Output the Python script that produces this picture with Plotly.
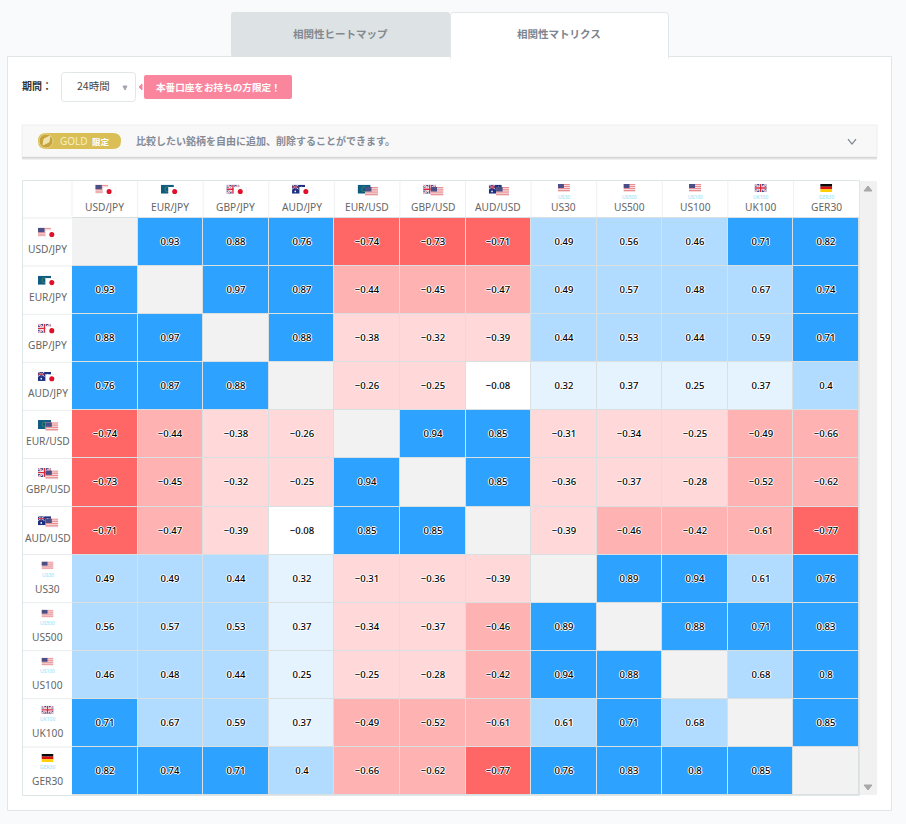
# -*- coding: utf-8 -*-
# correlation matrix page rebuilt with plotly
import base64
import plotly.graph_objects as go

W = 906
H = 824

## DATA
symbols = ['USD/JPY', 'EUR/JPY', 'GBP/JPY', 'AUD/JPY', 'EUR/USD', 'GBP/USD',
           'AUD/USD', 'US30', 'US500', 'US100', 'UK100', 'GER30']
flag_pairs = [('us', 'jp'), ('eu', 'jp'), ('gb', 'jp'), ('au', 'jp'), ('eu', 'us'), ('gb', 'us'),
              ('au', 'us'), ('us',), ('us',), ('us',), ('gb',), ('de',)]

usdjpy = [None, 0.93, 0.88, 0.76, -0.74, -0.73, -0.71, 0.49, 0.56, 0.46, 0.71, 0.82]
eurjpy = [0.93, None, 0.97, 0.87, -0.44, -0.45, -0.47, 0.49, 0.57, 0.48, 0.67, 0.74]
gbpjpy = [0.88, 0.97, None, 0.88, -0.38, -0.32, -0.39, 0.44, 0.53, 0.44, 0.59, 0.71]
audjpy = [0.76, 0.87, 0.88, None, -0.26, -0.25, -0.08, 0.32, 0.37, 0.25, 0.37, 0.4]
eurusd = [-0.74, -0.44, -0.38, -0.26, None, 0.94, 0.85, -0.31, -0.34, -0.25, -0.49, -0.66]
gbpusd = [-0.73, -0.45, -0.32, -0.25, 0.94, None, 0.85, -0.36, -0.37, -0.28, -0.52, -0.62]
audusd = [-0.71, -0.47, -0.39, -0.08, 0.85, 0.85, None, -0.39, -0.46, -0.42, -0.61, -0.77]
us30 = [0.49, 0.49, 0.44, 0.32, -0.31, -0.36, -0.39, None, 0.89, 0.94, 0.61, 0.76]
us500 = [0.56, 0.57, 0.53, 0.37, -0.34, -0.37, -0.46, 0.89, None, 0.88, 0.71, 0.83]
us100 = [0.46, 0.48, 0.44, 0.25, -0.25, -0.28, -0.42, 0.94, 0.88, None, 0.68, 0.8]
uk100 = [0.71, 0.67, 0.59, 0.37, -0.49, -0.52, -0.61, 0.61, 0.71, 0.68, None, 0.85]
ger30 = [0.82, 0.74, 0.71, 0.4, -0.66, -0.62, -0.77, 0.76, 0.83, 0.8, 0.85, None]
matrix = [usdjpy, eurjpy, gbpjpy, audjpy, eurusd, gbpusd, audusd, us30, us500, us100, uk100, ger30]

## TABLE GEOMETRY (pixels of the page)
TX0, TX1 = 72, 859
TY0, TY1 = 218, 795
HEAD_TOP = 181
COL_W = (TX1 - TX0) / len(symbols)
ROW_H = (TY1 - TY0) / len(symbols)

JP_FONT = 'Noto Sans CJK JP'
LATIN_FONT = 'Noto Sans'
HALO = '1px 0 0 #fff, -1px 0 0 #fff, 0 1px 0 #fff, 0 -1px 0 #fff'


def px(x):
    return x / W


def py(y):
    return 1 - y / H


## STEP COLOUR SCALE (z runs -1..1, so position = (v + 1) / 2)
bins = [(-1, -0.7, '#ff6666'), (-0.7, -0.4, '#ffb2b2'), (-0.4, -0.2, '#ffd9d9'), (-0.2, 0.2, '#ffffff'),
        (0.2, 0.4, '#e5f3ff'), (0.4, 0.7, '#b2dcff'), (0.7, 1, '#2da2ff')]
colorscale = []
for low, high, col in bins:
    colorscale.append([(low + 1) / 2, col])
    colorscale.append([(high + 1) / 2, col])

cell_text = [['' if v is None else str(v).replace('-', '\u2212') for v in row] for row in matrix]
diag = [[1 if v is None else None for v in row] for row in matrix]

fig = go.Figure()

fig.add_trace(go.Heatmap(x=symbols, y=symbols, z=diag, zmin=0, zmax=1, xgap=1, ygap=1,
                         colorscale=[[0, '#f2f2f2'], [1, '#f2f2f2']], showscale=False, hoverinfo='skip'))
fig.add_trace(go.Heatmap(x=symbols, y=symbols, z=matrix, zmin=-1, zmax=1, xgap=1, ygap=1,
                         colorscale=colorscale, showscale=False, text=cell_text, texttemplate='%{text}',
                         textfont=dict(family=LATIN_FONT, size=9.5, color='#000000', weight=500, shadow=HALO),
                         hoverongaps=False))


## FLAGS AS SMALL SVG IMAGES
def svg_uri(body):
    svg = '<svg xmlns="http://www.w3.org/2000/svg" viewBox="0 0 24 16" preserveAspectRatio="none">' + body + '</svg>'
    return 'data:image/svg+xml;base64,' + base64.b64encode(svg.encode()).decode()


us_stripes = ''.join('<rect y="%d" width="24" height="2" fill="#e88e92"/>' % y for y in range(0, 16, 4))
flags = {
    'us': svg_uri('<rect width="24" height="16" fill="#f6dcdc"/>' + us_stripes
                  + '<rect width="12" height="8" fill="#4b4f86"/>'),
    'jp': svg_uri('<rect width="24" height="16" fill="#fff" stroke="#e6e6e6" stroke-width="1"/>'
                  '<circle cx="12" cy="8" r="4.6" fill="#e0102a"/>'),
    'eu': svg_uri('<rect width="24" height="16" fill="#0f5c80"/>'
                  '<circle cx="12" cy="8" r="4.5" fill="none" stroke="#6c9a5a" stroke-width="1"/>'),
    'gb': svg_uri('<rect width="24" height="16" fill="#3f4c8e"/>'
                  '<path d="M0 0L24 16M24 0L0 16" stroke="#fff" stroke-width="3.5"/>'
                  '<path d="M0 0L24 16M24 0L0 16" stroke="#d8404f" stroke-width="1.2"/>'
                  '<path d="M12 0V16M0 8H24" stroke="#fff" stroke-width="5"/>'
                  '<path d="M12 0V16M0 8H24" stroke="#d8283c" stroke-width="2.6"/>'),
    'au': svg_uri('<rect width="24" height="16" fill="#1c2f80"/>'
                  '<path d="M0 0L12 8M12 0L0 8" stroke="#e8e8f2" stroke-width="1.6"/>'
                  '<path d="M6 0V8M0 4H12" stroke="#d84050" stroke-width="2"/>'
                  '<circle cx="6" cy="12" r="1.5" fill="#fff"/><circle cx="18" cy="4" r="1" fill="#fff"/>'
                  '<circle cx="20" cy="9" r="1" fill="#fff"/><circle cx="16" cy="11" r="1" fill="#fff"/>'),
    'de': svg_uri('<rect width="24" height="5.4" fill="#0a0a0a"/><rect y="5.3" width="24" height="5.4" fill="#dd1010"/>'
                  '<rect y="10.6" width="24" height="5.4" fill="#ffcf00"/>'),
}

images = []


def add_flag(code, x, y, w=12, h=8):
    images.append(dict(source=flags[code], xref='paper', yref='paper', x=px(x), y=py(y), sizex=w / W, sizey=h / H,
                       xanchor='left', yanchor='top', sizing='stretch', layer='above'))


annotations = []


def add_text(text, x, y, size=10, color='#666666', font=LATIN_FONT, anchor='center', bold=False):
    annotations.append(dict(text='<b>%s</b>' % text if bold else text, xref='paper', yref='paper', x=px(x), y=py(y),
                            xanchor=anchor, yanchor='middle', showarrow=False,
                            font=dict(family=font, size=size, color=color)))


def add_symbol(i, cx, top, is_head):
    pair = flag_pairs[i]
    if len(pair) == 2:
        add_flag(pair[0], cx - 9.5, top + (3.7 if is_head else 9.7), 13, 9)
        add_flag(pair[1], cx - 2.2, top + (6 if is_head else 12), 13, 9)
        label_y = top + (26 if is_head else 31)
    else:
        add_flag(pair[0], cx - 6, top + (3 if is_head else 7))
        add_text(symbols[i], cx, top + (16 if is_head else 20), size=5, color='#8fdcf5')
        label_y = top + (26 if is_head else 34)
    add_text(symbols[i], cx, label_y, size=10.2)


for i in range(len(symbols)):
    add_symbol(i, TX0 + COL_W * (i + 0.5), HEAD_TOP, True)
    add_symbol(i, 47.5, TY0 + ROW_H * i, False)

## PAGE FURNITURE
shapes = []


def add_rect(x0, y0, x1, y1, fill, line=None, opacity=None):
    s = dict(type='rect', xref='paper', yref='paper', x0=px(x0), x1=px(x1), y0=py(y0), y1=py(y1), fillcolor=fill,
             line=dict(color=line or fill, width=1 if line else 0), layer='below')
    if opacity is not None:
        s['opacity'] = opacity
    shapes.append(s)


def add_path(path_pts, color, width=1, fill=None):
    path = 'M' + ' L'.join('%.5f,%.5f' % (px(x), py(y)) for x, y in path_pts)
    if fill:
        path += ' Z'
    shapes.append(dict(type='path', xref='paper', yref='paper', path=path, line=dict(color=color, width=width),
                       fillcolor=fill or 'rgba(0,0,0,0)', layer='below'))


def add_round(x0, y0, x1, y1, r, fill, line=None):
    ax = r
    pts = 'M%.5f,%.5f L%.5f,%.5f Q%.5f,%.5f %.5f,%.5f L%.5f,%.5f Q%.5f,%.5f %.5f,%.5f L%.5f,%.5f Q%.5f,%.5f %.5f,%.5f L%.5f,%.5f Q%.5f,%.5f %.5f,%.5f Z' % (
        px(x0 + ax), py(y0), px(x1 - ax), py(y0), px(x1), py(y0), px(x1), py(y0 + ax),
        px(x1), py(y1 - ax), px(x1), py(y1), px(x1 - ax), py(y1),
        px(x0 + ax), py(y1), px(x0), py(y1), px(x0), py(y1 - ax),
        px(x0), py(y0 + ax), px(x0), py(y0), px(x0 + ax), py(y0))
    shapes.append(dict(type='path', xref='paper', yref='paper', path=pts, fillcolor=fill,
                       line=dict(color=line or fill, width=1 if line else 0), layer='below'))


# panel and tabs
add_rect(7.5, 56.5, 891.5, 810.5, '#ffffff', '#e1e7e9')
add_round(231, 12, 450, 57, 3, '#dde2e4')
add_round(450.5, 12.5, 668.5, 60, 3, '#ffffff', '#e1e7e9')
add_rect(451, 55, 668, 62, '#ffffff')
add_text('相関性ヒートマップ', 340, 33, size=10.5, color='#83898f', font=JP_FONT, bold=True)
add_text('相関性マトリクス', 559, 33, size=10.5, color='#7d8590', font=JP_FONT, bold=True)

# period selector and badge
add_text('期間：', 20, 85, size=10, color='#333333', font=JP_FONT, anchor='left', bold=True)
add_round(61.5, 72.5, 135.5, 101.5, 3, '#ffffff', '#e1e7e9')
add_text('24時間', 93.5, 86, size=10.5, color='#444444', font=JP_FONT)
add_path([(123, 86), (127, 86), (125, 90)], '#a0a6ab', fill='#a0a6ab')
add_path([(139, 87), (142, 84), (142, 90)], '#f9869d', fill='#f9869d')
add_round(144, 75, 292, 99, 2, '#f9869d')
add_text('本番口座をお持ちの方限定！', 218, 87, size=9.6, color='#ffffff', font=JP_FONT, bold=True)

# gold bar
add_rect(22, 158, 877, 159.5, '#e2e2e2')
add_rect(22, 157, 877, 158, '#bcbcbc')
add_rect(22, 125, 877, 157, '#f8f8f8', '#eeeeee')
add_round(38, 133, 121, 149, 8, '#d9bf55')
shapes.append(dict(type='circle', xref='paper', yref='paper', x0=px(39), x1=px(53), y0=py(134), y1=py(148),
                   fillcolor='#c7a33c', line=dict(color='#e6d588', width=1), layer='below'))
add_path([(43, 145), (44, 139), (50, 136), (49, 142)], '#efe3b0', fill='#efe3b0')
add_text('GOLD', 74, 141, size=10, color='#f6eec8', font=LATIN_FONT)
add_text('限定', 101, 141, size=8.5, color='#ffffff', font=JP_FONT, bold=True)
add_text('比較したい銘柄を自由に追加、削除することができます。', 134, 141, size=10, color='#858b96',
         font=JP_FONT, anchor='left', bold=True)
add_path([(848, 139), (852, 144), (856, 139)], '#7d838c', width=1.2)

# table frame, gaps colour and scrollbar
add_rect(22.5, 180.5, 859.5, 795.5, '#ffffff', '#dfe6e8')
add_rect(TX0, TY0 - 1, TX1, TY1, '#dadfe1')
add_rect(860, 181, 877, 795, '#f1f1f1')
add_path([(864, 191), (872, 191), (868, 186)], '#a8a8a8', fill='#a8a8a8')
add_path([(864, 785), (872, 785), (868, 790)], '#a8a8a8', fill='#a8a8a8')

# faint cell lines in the header row and label column
for i in range(len(symbols)):
    x = TX0 + COL_W * i
    add_rect(x - 0.5, HEAD_TOP, x + 0.5, TY0 - 1, '#eef1f2')
    y = TY0 + ROW_H * i
    add_rect(23, y - 0.5, TX0, y + 0.5, '#e9edee')

fig.update_layout(
    width=W, height=H, margin=dict(l=0, r=0, t=0, b=0), autosize=False,
    paper_bgcolor='#f9fafc', plot_bgcolor='rgba(0,0,0,0)',
    xaxis=dict(domain=[px(TX0), px(TX1)], type='category', showgrid=False, zeroline=False, showticklabels=False,
               ticks='', categoryorder='array', categoryarray=symbols),
    yaxis=dict(domain=[py(TY1), py(TY0)], type='category', showgrid=False, zeroline=False, showticklabels=False,
               ticks='', autorange='reversed', categoryorder='array', categoryarray=symbols),
    shapes=shapes, images=images, annotations=annotations, showlegend=False,
)

# the page body has a default margin of 8px, drop it so the figure sits at 0,0
fig.write_html("out.html", config={'displayModeBar': False}, post_script="document.body.style.margin='0';")
